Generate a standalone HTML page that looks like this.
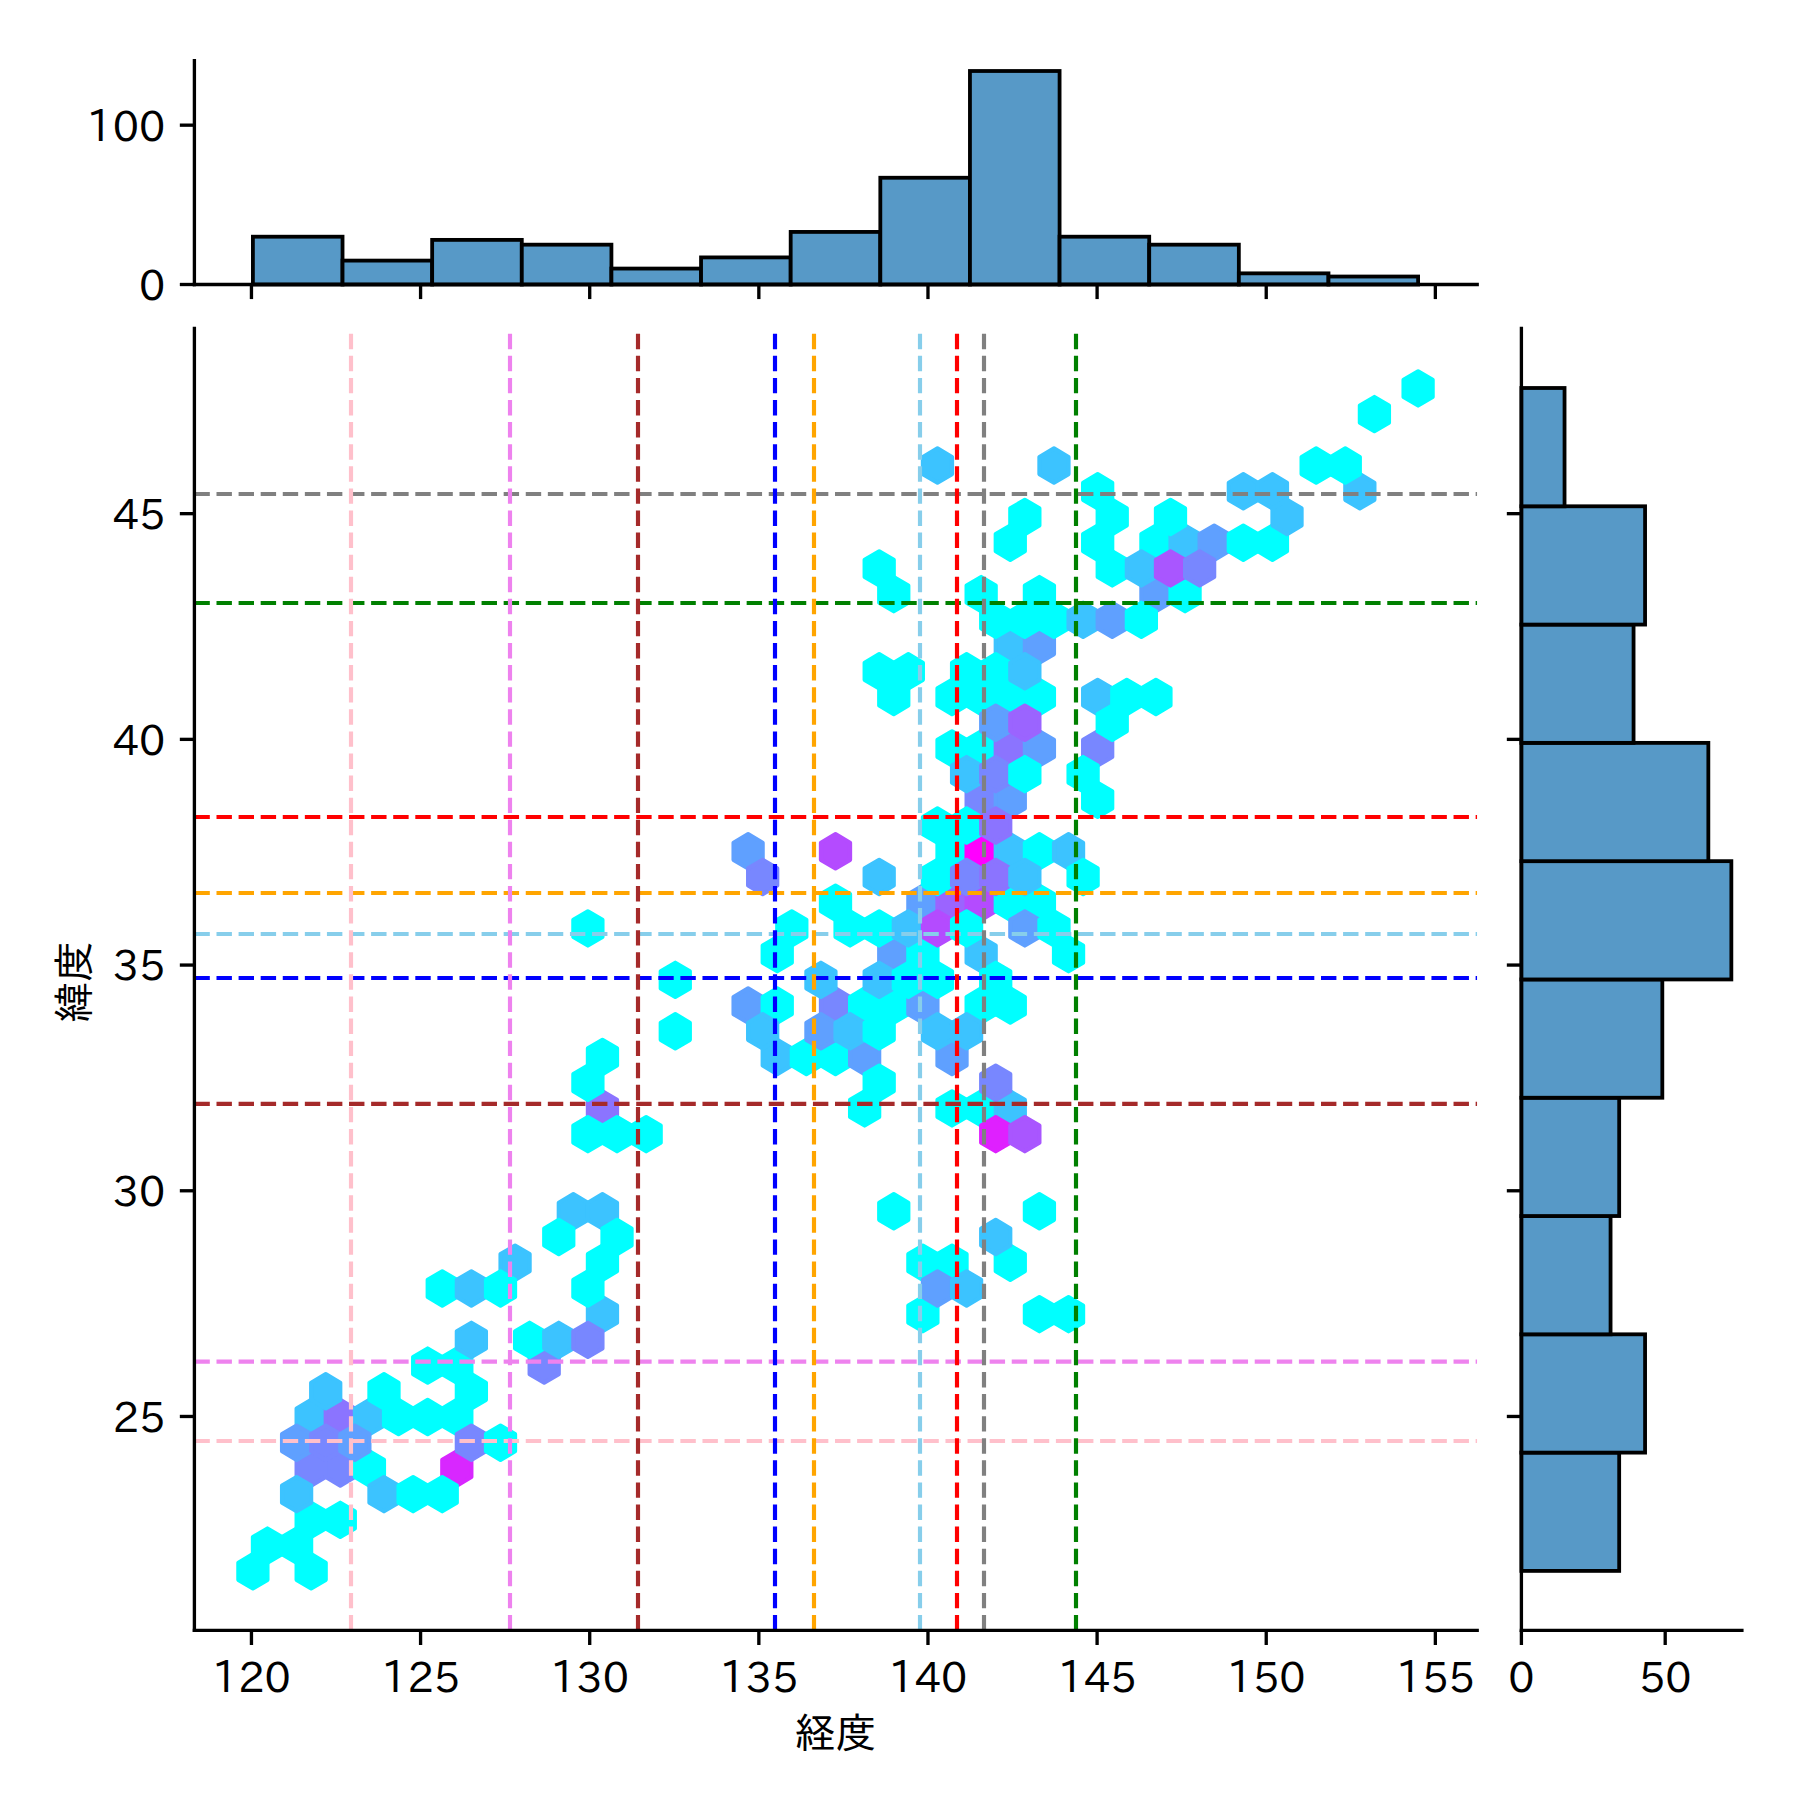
<!DOCTYPE html>
<html><head><meta charset="utf-8"><title>jointplot</title>
<style>html,body{margin:0;padding:0;background:#fff;} svg{display:block;}</style>
</head><body>
<svg width="1800" height="1800" viewBox="0 0 1800 1800">
<rect width="1800" height="1800" fill="#ffffff"/>
<defs><clipPath id="cj"><rect x="194.4" y="328.3" width="1282.8" height="1302.1000000000001"/></clipPath></defs>
<g clip-path="url(#cj)">
<g stroke-width="4.167" stroke-linejoin="round">
<polygon points="267.47,1579.87 267.47,1562.73 252.90,1554.16 238.34,1562.73 238.34,1579.87 252.90,1588.44" fill="#00ffff" stroke="#00ffff"/>
<polygon points="325.73,1579.87 325.73,1562.73 311.16,1554.16 296.60,1562.73 296.60,1579.87 311.16,1588.44" fill="#00ffff" stroke="#00ffff"/>
<polygon points="325.73,1528.44 325.73,1511.30 311.16,1502.73 296.60,1511.30 296.60,1528.44 311.16,1537.01" fill="#00ffff" stroke="#00ffff"/>
<polygon points="325.73,1477.01 325.73,1459.87 311.16,1451.30 296.60,1459.87 296.60,1477.01 311.16,1485.58" fill="#7887ff" stroke="#7887ff"/>
<polygon points="325.73,1425.58 325.73,1408.44 311.16,1399.87 296.60,1408.44 296.60,1425.58 311.16,1434.15" fill="#3cc3ff" stroke="#3cc3ff"/>
<polygon points="354.86,1528.44 354.86,1511.30 340.29,1502.73 325.73,1511.30 325.73,1528.44 340.29,1537.01" fill="#00ffff" stroke="#00ffff"/>
<polygon points="354.86,1477.01 354.86,1459.87 340.29,1451.30 325.73,1459.87 325.73,1477.01 340.29,1485.58" fill="#7887ff" stroke="#7887ff"/>
<polygon points="354.86,1425.58 354.86,1408.44 340.29,1399.87 325.73,1408.44 325.73,1425.58 340.29,1434.15" fill="#8b74ff" stroke="#8b74ff"/>
<polygon points="383.99,1477.01 383.99,1459.87 369.42,1451.30 354.86,1459.87 354.86,1477.01 369.42,1485.58" fill="#00ffff" stroke="#00ffff"/>
<polygon points="383.99,1425.58 383.99,1408.44 369.42,1399.87 354.86,1408.44 354.86,1425.58 369.42,1434.15" fill="#3cc3ff" stroke="#3cc3ff"/>
<polygon points="413.12,1425.58 413.12,1408.44 398.55,1399.87 383.99,1408.44 383.99,1425.58 398.55,1434.15" fill="#00ffff" stroke="#00ffff"/>
<polygon points="442.25,1425.58 442.25,1408.44 427.68,1399.87 413.12,1408.44 413.12,1425.58 427.68,1434.15" fill="#00ffff" stroke="#00ffff"/>
<polygon points="442.25,1374.15 442.25,1357.01 427.68,1348.43 413.12,1357.01 413.12,1374.15 427.68,1382.72" fill="#00ffff" stroke="#00ffff"/>
<polygon points="471.38,1477.01 471.38,1459.87 456.81,1451.30 442.25,1459.87 442.25,1477.01 456.81,1485.58" fill="#d827ff" stroke="#d827ff"/>
<polygon points="471.38,1425.58 471.38,1408.44 456.81,1399.87 442.25,1408.44 442.25,1425.58 456.81,1434.15" fill="#00ffff" stroke="#00ffff"/>
<polygon points="471.38,1374.15 471.38,1357.01 456.81,1348.43 442.25,1357.01 442.25,1374.15 456.81,1382.72" fill="#00ffff" stroke="#00ffff"/>
<polygon points="529.64,1271.29 529.64,1254.15 515.07,1245.57 500.51,1254.15 500.51,1271.29 515.07,1279.86" fill="#3cc3ff" stroke="#3cc3ff"/>
<polygon points="558.77,1374.15 558.77,1357.01 544.20,1348.43 529.63,1357.01 529.63,1374.15 544.20,1382.72" fill="#7887ff" stroke="#7887ff"/>
<polygon points="587.90,1219.86 587.90,1202.72 573.33,1194.14 558.76,1202.72 558.76,1219.86 573.33,1228.43" fill="#3cc3ff" stroke="#3cc3ff"/>
<polygon points="617.03,1322.72 617.03,1305.58 602.46,1297.00 587.89,1305.58 587.89,1322.72 602.46,1331.29" fill="#3cc3ff" stroke="#3cc3ff"/>
<polygon points="617.03,1271.29 617.03,1254.15 602.46,1245.57 587.89,1254.15 587.89,1271.29 602.46,1279.86" fill="#00ffff" stroke="#00ffff"/>
<polygon points="617.03,1219.86 617.03,1202.72 602.46,1194.14 587.89,1202.72 587.89,1219.86 602.46,1228.43" fill="#3cc3ff" stroke="#3cc3ff"/>
<polygon points="617.03,1117.00 617.03,1099.85 602.46,1091.28 587.89,1099.85 587.89,1117.00 602.46,1125.57" fill="#8b74ff" stroke="#8b74ff"/>
<polygon points="617.03,1065.57 617.03,1048.42 602.46,1039.85 587.89,1048.42 587.89,1065.57 602.46,1074.14" fill="#00ffff" stroke="#00ffff"/>
<polygon points="762.68,1014.14 762.68,996.99 748.11,988.42 733.54,996.99 733.54,1014.14 748.11,1022.71" fill="#5fa0ff" stroke="#5fa0ff"/>
<polygon points="762.68,859.85 762.68,842.70 748.11,834.13 733.54,842.70 733.54,859.85 748.11,868.42" fill="#5fa0ff" stroke="#5fa0ff"/>
<polygon points="791.81,1065.57 791.81,1048.42 777.24,1039.85 762.67,1048.42 762.67,1065.57 777.24,1074.14" fill="#3cc3ff" stroke="#3cc3ff"/>
<polygon points="791.81,1014.14 791.81,996.99 777.24,988.42 762.67,996.99 762.67,1014.14 777.24,1022.71" fill="#00ffff" stroke="#00ffff"/>
<polygon points="791.81,962.71 791.81,945.56 777.24,936.99 762.67,945.56 762.67,962.71 777.24,971.28" fill="#00ffff" stroke="#00ffff"/>
<polygon points="820.94,1065.57 820.94,1048.42 806.37,1039.85 791.80,1048.42 791.80,1065.57 806.37,1074.14" fill="#00ffff" stroke="#00ffff"/>
<polygon points="850.07,1065.57 850.07,1048.42 835.50,1039.85 820.93,1048.42 820.93,1065.57 835.50,1074.14" fill="#00ffff" stroke="#00ffff"/>
<polygon points="850.07,1014.14 850.07,996.99 835.50,988.42 820.93,996.99 820.93,1014.14 835.50,1022.71" fill="#7887ff" stroke="#7887ff"/>
<polygon points="850.07,911.28 850.07,894.13 835.50,885.56 820.93,894.13 820.93,911.28 835.50,919.85" fill="#00ffff" stroke="#00ffff"/>
<polygon points="850.07,859.85 850.07,842.70 835.50,834.13 820.93,842.70 820.93,859.85 835.50,868.42" fill="#b44bff" stroke="#b44bff"/>
<polygon points="879.20,1117.00 879.20,1099.85 864.63,1091.28 850.06,1099.85 850.06,1117.00 864.63,1125.57" fill="#00ffff" stroke="#00ffff"/>
<polygon points="879.20,1065.57 879.20,1048.42 864.63,1039.85 850.06,1048.42 850.06,1065.57 864.63,1074.14" fill="#5fa0ff" stroke="#5fa0ff"/>
<polygon points="879.20,1014.14 879.20,996.99 864.63,988.42 850.06,996.99 850.06,1014.14 864.63,1022.71" fill="#00ffff" stroke="#00ffff"/>
<polygon points="908.33,1219.86 908.33,1202.72 893.76,1194.14 879.19,1202.72 879.19,1219.86 893.76,1228.43" fill="#00ffff" stroke="#00ffff"/>
<polygon points="908.33,1014.14 908.33,996.99 893.76,988.42 879.19,996.99 879.19,1014.14 893.76,1022.71" fill="#00ffff" stroke="#00ffff"/>
<polygon points="908.33,962.71 908.33,945.56 893.76,936.99 879.19,945.56 879.19,962.71 893.76,971.28" fill="#5fa0ff" stroke="#5fa0ff"/>
<polygon points="908.33,705.55 908.33,688.41 893.76,679.84 879.19,688.41 879.19,705.55 893.76,714.13" fill="#00ffff" stroke="#00ffff"/>
<polygon points="908.33,602.69 908.33,585.55 893.76,576.98 879.19,585.55 879.19,602.69 893.76,611.27" fill="#00ffff" stroke="#00ffff"/>
<polygon points="937.46,1322.72 937.46,1305.58 922.89,1297.00 908.32,1305.58 908.32,1322.72 922.89,1331.29" fill="#00ffff" stroke="#00ffff"/>
<polygon points="937.46,1271.29 937.46,1254.15 922.89,1245.57 908.32,1254.15 908.32,1271.29 922.89,1279.86" fill="#00ffff" stroke="#00ffff"/>
<polygon points="937.46,1014.14 937.46,996.99 922.89,988.42 908.32,996.99 908.32,1014.14 922.89,1022.71" fill="#5fa0ff" stroke="#5fa0ff"/>
<polygon points="937.46,962.71 937.46,945.56 922.89,936.99 908.32,945.56 908.32,962.71 922.89,971.28" fill="#00ffff" stroke="#00ffff"/>
<polygon points="937.46,911.28 937.46,894.13 922.89,885.56 908.32,894.13 908.32,911.28 922.89,919.85" fill="#5fa0ff" stroke="#5fa0ff"/>
<polygon points="966.59,1271.29 966.59,1254.15 952.02,1245.57 937.46,1254.15 937.46,1271.29 952.02,1279.86" fill="#00ffff" stroke="#00ffff"/>
<polygon points="966.59,1117.00 966.59,1099.85 952.02,1091.28 937.46,1099.85 937.46,1117.00 952.02,1125.57" fill="#00ffff" stroke="#00ffff"/>
<polygon points="966.59,1065.57 966.59,1048.42 952.02,1039.85 937.46,1048.42 937.46,1065.57 952.02,1074.14" fill="#5fa0ff" stroke="#5fa0ff"/>
<polygon points="966.59,911.28 966.59,894.13 952.02,885.56 937.46,894.13 937.46,911.28 952.02,919.85" fill="#9b64ff" stroke="#9b64ff"/>
<polygon points="966.59,859.85 966.59,842.70 952.02,834.13 937.46,842.70 937.46,859.85 952.02,868.42" fill="#00ffff" stroke="#00ffff"/>
<polygon points="966.59,756.98 966.59,739.84 952.02,731.27 937.46,739.84 937.46,756.98 952.02,765.56" fill="#00ffff" stroke="#00ffff"/>
<polygon points="966.59,705.55 966.59,688.41 952.02,679.84 937.46,688.41 937.46,705.55 952.02,714.13" fill="#00ffff" stroke="#00ffff"/>
<polygon points="995.72,1117.00 995.72,1099.85 981.15,1091.28 966.59,1099.85 966.59,1117.00 981.15,1125.57" fill="#00ffff" stroke="#00ffff"/>
<polygon points="995.72,1014.14 995.72,996.99 981.15,988.42 966.59,996.99 966.59,1014.14 981.15,1022.71" fill="#00ffff" stroke="#00ffff"/>
<polygon points="995.72,962.71 995.72,945.56 981.15,936.99 966.59,945.56 966.59,962.71 981.15,971.28" fill="#3cc3ff" stroke="#3cc3ff"/>
<polygon points="995.72,911.28 995.72,894.13 981.15,885.56 966.59,894.13 966.59,911.28 981.15,919.85" fill="#b44bff" stroke="#b44bff"/>
<polygon points="995.72,859.85 995.72,842.70 981.15,834.13 966.59,842.70 966.59,859.85 981.15,868.42" fill="#ff00ff" stroke="#ff00ff"/>
<polygon points="995.72,808.42 995.72,791.27 981.15,782.70 966.59,791.27 966.59,808.42 981.15,816.99" fill="#7887ff" stroke="#7887ff"/>
<polygon points="995.72,756.98 995.72,739.84 981.15,731.27 966.59,739.84 966.59,756.98 981.15,765.56" fill="#00ffff" stroke="#00ffff"/>
<polygon points="995.72,705.55 995.72,688.41 981.15,679.84 966.59,688.41 966.59,705.55 981.15,714.13" fill="#00ffff" stroke="#00ffff"/>
<polygon points="995.72,602.69 995.72,585.55 981.15,576.98 966.59,585.55 966.59,602.69 981.15,611.27" fill="#00ffff" stroke="#00ffff"/>
<polygon points="1024.85,1271.29 1024.85,1254.15 1010.28,1245.57 995.72,1254.15 995.72,1271.29 1010.28,1279.86" fill="#00ffff" stroke="#00ffff"/>
<polygon points="1024.85,1117.00 1024.85,1099.85 1010.28,1091.28 995.72,1099.85 995.72,1117.00 1010.28,1125.57" fill="#3cc3ff" stroke="#3cc3ff"/>
<polygon points="1024.85,1014.14 1024.85,996.99 1010.28,988.42 995.72,996.99 995.72,1014.14 1010.28,1022.71" fill="#00ffff" stroke="#00ffff"/>
<polygon points="1024.85,911.28 1024.85,894.13 1010.28,885.56 995.72,894.13 995.72,911.28 1010.28,919.85" fill="#00ffff" stroke="#00ffff"/>
<polygon points="1024.85,859.85 1024.85,842.70 1010.28,834.13 995.72,842.70 995.72,859.85 1010.28,868.42" fill="#3cc3ff" stroke="#3cc3ff"/>
<polygon points="1024.85,808.42 1024.85,791.27 1010.28,782.70 995.72,791.27 995.72,808.42 1010.28,816.99" fill="#5fa0ff" stroke="#5fa0ff"/>
<polygon points="1024.85,756.98 1024.85,739.84 1010.28,731.27 995.72,739.84 995.72,756.98 1010.28,765.56" fill="#8b74ff" stroke="#8b74ff"/>
<polygon points="1024.85,705.55 1024.85,688.41 1010.28,679.84 995.72,688.41 995.72,705.55 1010.28,714.13" fill="#00ffff" stroke="#00ffff"/>
<polygon points="1024.85,654.12 1024.85,636.98 1010.28,628.41 995.72,636.98 995.72,654.12 1010.28,662.70" fill="#3cc3ff" stroke="#3cc3ff"/>
<polygon points="1024.85,551.26 1024.85,534.12 1010.28,525.55 995.72,534.12 995.72,551.26 1010.28,559.83" fill="#00ffff" stroke="#00ffff"/>
<polygon points="1053.98,1322.72 1053.98,1305.58 1039.41,1297.00 1024.85,1305.58 1024.85,1322.72 1039.41,1331.29" fill="#00ffff" stroke="#00ffff"/>
<polygon points="1053.98,1219.86 1053.98,1202.72 1039.41,1194.14 1024.85,1202.72 1024.85,1219.86 1039.41,1228.43" fill="#00ffff" stroke="#00ffff"/>
<polygon points="1053.98,911.28 1053.98,894.13 1039.41,885.56 1024.85,894.13 1024.85,911.28 1039.41,919.85" fill="#00ffff" stroke="#00ffff"/>
<polygon points="1053.98,859.85 1053.98,842.70 1039.41,834.13 1024.85,842.70 1024.85,859.85 1039.41,868.42" fill="#00ffff" stroke="#00ffff"/>
<polygon points="1053.98,756.98 1053.98,739.84 1039.41,731.27 1024.85,739.84 1024.85,756.98 1039.41,765.56" fill="#5fa0ff" stroke="#5fa0ff"/>
<polygon points="1053.98,705.55 1053.98,688.41 1039.41,679.84 1024.85,688.41 1024.85,705.55 1039.41,714.13" fill="#00ffff" stroke="#00ffff"/>
<polygon points="1053.98,654.12 1053.98,636.98 1039.41,628.41 1024.85,636.98 1024.85,654.12 1039.41,662.70" fill="#5fa0ff" stroke="#5fa0ff"/>
<polygon points="1053.98,602.69 1053.98,585.55 1039.41,576.98 1024.85,585.55 1024.85,602.69 1039.41,611.27" fill="#00ffff" stroke="#00ffff"/>
<polygon points="1083.11,1322.72 1083.11,1305.58 1068.54,1297.00 1053.98,1305.58 1053.98,1322.72 1068.54,1331.29" fill="#00ffff" stroke="#00ffff"/>
<polygon points="1083.11,962.71 1083.11,945.56 1068.54,936.99 1053.98,945.56 1053.98,962.71 1068.54,971.28" fill="#00ffff" stroke="#00ffff"/>
<polygon points="1083.11,859.85 1083.11,842.70 1068.54,834.13 1053.98,842.70 1053.98,859.85 1068.54,868.42" fill="#3cc3ff" stroke="#3cc3ff"/>
<polygon points="1112.24,808.42 1112.24,791.27 1097.67,782.70 1083.11,791.27 1083.11,808.42 1097.67,816.99" fill="#00ffff" stroke="#00ffff"/>
<polygon points="1112.24,756.98 1112.24,739.84 1097.67,731.27 1083.11,739.84 1083.11,756.98 1097.67,765.56" fill="#7887ff" stroke="#7887ff"/>
<polygon points="1112.24,705.55 1112.24,688.41 1097.67,679.84 1083.11,688.41 1083.11,705.55 1097.67,714.13" fill="#3cc3ff" stroke="#3cc3ff"/>
<polygon points="1112.24,551.26 1112.24,534.12 1097.67,525.55 1083.11,534.12 1083.11,551.26 1097.67,559.83" fill="#00ffff" stroke="#00ffff"/>
<polygon points="1112.24,499.83 1112.24,482.69 1097.67,474.12 1083.11,482.69 1083.11,499.83 1097.67,508.40" fill="#00ffff" stroke="#00ffff"/>
<polygon points="1141.37,705.55 1141.37,688.41 1126.80,679.84 1112.24,688.41 1112.24,705.55 1126.80,714.13" fill="#00ffff" stroke="#00ffff"/>
<polygon points="1170.50,705.55 1170.50,688.41 1155.93,679.84 1141.37,688.41 1141.37,705.55 1155.93,714.13" fill="#00ffff" stroke="#00ffff"/>
<polygon points="1170.50,602.69 1170.50,585.55 1155.93,576.98 1141.37,585.55 1141.37,602.69 1155.93,611.27" fill="#5fa0ff" stroke="#5fa0ff"/>
<polygon points="1170.50,551.26 1170.50,534.12 1155.93,525.55 1141.37,534.12 1141.37,551.26 1155.93,559.83" fill="#00ffff" stroke="#00ffff"/>
<polygon points="1199.63,602.69 1199.63,585.55 1185.06,576.98 1170.50,585.55 1170.50,602.69 1185.06,611.27" fill="#00ffff" stroke="#00ffff"/>
<polygon points="1199.63,551.26 1199.63,534.12 1185.06,525.55 1170.50,534.12 1170.50,551.26 1185.06,559.83" fill="#3cc3ff" stroke="#3cc3ff"/>
<polygon points="1228.76,551.26 1228.76,534.12 1214.19,525.55 1199.62,534.12 1199.62,551.26 1214.19,559.83" fill="#5fa0ff" stroke="#5fa0ff"/>
<polygon points="1257.89,551.26 1257.89,534.12 1243.32,525.55 1228.76,534.12 1228.76,551.26 1243.32,559.83" fill="#00ffff" stroke="#00ffff"/>
<polygon points="1257.89,499.83 1257.89,482.69 1243.32,474.12 1228.76,482.69 1228.76,499.83 1243.32,508.40" fill="#3cc3ff" stroke="#3cc3ff"/>
<polygon points="1287.02,551.26 1287.02,534.12 1272.45,525.55 1257.88,534.12 1257.88,551.26 1272.45,559.83" fill="#00ffff" stroke="#00ffff"/>
<polygon points="1287.02,499.83 1287.02,482.69 1272.45,474.12 1257.88,482.69 1257.88,499.83 1272.45,508.40" fill="#3cc3ff" stroke="#3cc3ff"/>
<polygon points="1374.41,499.83 1374.41,482.69 1359.84,474.12 1345.28,482.69 1345.28,499.83 1359.84,508.40" fill="#3cc3ff" stroke="#3cc3ff"/>
<polygon points="1432.67,396.97 1432.67,379.83 1418.10,371.26 1403.54,379.83 1403.54,396.97 1418.10,405.54" fill="#00ffff" stroke="#00ffff"/>
<polygon points="282.03,1554.16 282.03,1537.01 267.47,1528.44 252.90,1537.01 252.90,1554.16 267.47,1562.73" fill="#00ffff" stroke="#00ffff"/>
<polygon points="311.16,1554.16 311.16,1537.01 296.60,1528.44 282.03,1537.01 282.03,1554.16 296.60,1562.73" fill="#00ffff" stroke="#00ffff"/>
<polygon points="311.16,1502.73 311.16,1485.58 296.60,1477.01 282.03,1485.58 282.03,1502.73 296.60,1511.30" fill="#3cc3ff" stroke="#3cc3ff"/>
<polygon points="311.16,1451.30 311.16,1434.15 296.60,1425.58 282.03,1434.15 282.03,1451.30 296.60,1459.87" fill="#5fa0ff" stroke="#5fa0ff"/>
<polygon points="340.29,1451.30 340.29,1434.15 325.73,1425.58 311.16,1434.15 311.16,1451.30 325.73,1459.87" fill="#7887ff" stroke="#7887ff"/>
<polygon points="340.29,1399.87 340.29,1382.72 325.73,1374.15 311.16,1382.72 311.16,1399.87 325.73,1408.44" fill="#3cc3ff" stroke="#3cc3ff"/>
<polygon points="369.42,1451.30 369.42,1434.15 354.86,1425.58 340.29,1434.15 340.29,1451.30 354.86,1459.87" fill="#5fa0ff" stroke="#5fa0ff"/>
<polygon points="398.55,1502.73 398.55,1485.58 383.99,1477.01 369.42,1485.58 369.42,1502.73 383.99,1511.30" fill="#3cc3ff" stroke="#3cc3ff"/>
<polygon points="398.55,1399.87 398.55,1382.72 383.99,1374.15 369.42,1382.72 369.42,1399.87 383.99,1408.44" fill="#00ffff" stroke="#00ffff"/>
<polygon points="427.68,1502.73 427.68,1485.58 413.12,1477.01 398.55,1485.58 398.55,1502.73 413.12,1511.30" fill="#00ffff" stroke="#00ffff"/>
<polygon points="456.81,1502.73 456.81,1485.58 442.25,1477.01 427.68,1485.58 427.68,1502.73 442.25,1511.30" fill="#00ffff" stroke="#00ffff"/>
<polygon points="456.81,1297.00 456.81,1279.86 442.25,1271.29 427.68,1279.86 427.68,1297.00 442.25,1305.58" fill="#00ffff" stroke="#00ffff"/>
<polygon points="485.94,1451.30 485.94,1434.15 471.38,1425.58 456.81,1434.15 456.81,1451.30 471.38,1459.87" fill="#7887ff" stroke="#7887ff"/>
<polygon points="485.94,1399.87 485.94,1382.72 471.38,1374.15 456.81,1382.72 456.81,1399.87 471.38,1408.44" fill="#00ffff" stroke="#00ffff"/>
<polygon points="485.94,1348.43 485.94,1331.29 471.38,1322.72 456.81,1331.29 456.81,1348.43 471.38,1357.01" fill="#3cc3ff" stroke="#3cc3ff"/>
<polygon points="485.94,1297.00 485.94,1279.86 471.38,1271.29 456.81,1279.86 456.81,1297.00 471.38,1305.58" fill="#3cc3ff" stroke="#3cc3ff"/>
<polygon points="515.07,1451.30 515.07,1434.15 500.50,1425.58 485.94,1434.15 485.94,1451.30 500.50,1459.87" fill="#00ffff" stroke="#00ffff"/>
<polygon points="515.07,1297.00 515.07,1279.86 500.50,1271.29 485.94,1279.86 485.94,1297.00 500.50,1305.58" fill="#00ffff" stroke="#00ffff"/>
<polygon points="544.20,1348.43 544.20,1331.29 529.63,1322.72 515.07,1331.29 515.07,1348.43 529.63,1357.01" fill="#00ffff" stroke="#00ffff"/>
<polygon points="573.33,1348.43 573.33,1331.29 558.76,1322.72 544.20,1331.29 544.20,1348.43 558.76,1357.01" fill="#3cc3ff" stroke="#3cc3ff"/>
<polygon points="573.33,1245.57 573.33,1228.43 558.76,1219.86 544.20,1228.43 544.20,1245.57 558.76,1254.15" fill="#00ffff" stroke="#00ffff"/>
<polygon points="602.46,1348.43 602.46,1331.29 587.89,1322.72 573.33,1331.29 573.33,1348.43 587.89,1357.01" fill="#7887ff" stroke="#7887ff"/>
<polygon points="602.46,1297.00 602.46,1279.86 587.89,1271.29 573.33,1279.86 573.33,1297.00 587.89,1305.58" fill="#00ffff" stroke="#00ffff"/>
<polygon points="602.46,1142.71 602.46,1125.57 587.89,1117.00 573.33,1125.57 573.33,1142.71 587.89,1151.28" fill="#00ffff" stroke="#00ffff"/>
<polygon points="602.46,1091.28 602.46,1074.14 587.89,1065.57 573.33,1074.14 573.33,1091.28 587.89,1099.85" fill="#00ffff" stroke="#00ffff"/>
<polygon points="602.46,936.99 602.46,919.85 587.89,911.28 573.33,919.85 573.33,936.99 587.89,945.56" fill="#00ffff" stroke="#00ffff"/>
<polygon points="631.59,1245.57 631.59,1228.43 617.03,1219.86 602.46,1228.43 602.46,1245.57 617.03,1254.15" fill="#00ffff" stroke="#00ffff"/>
<polygon points="631.59,1142.71 631.59,1125.57 617.03,1117.00 602.46,1125.57 602.46,1142.71 617.03,1151.28" fill="#00ffff" stroke="#00ffff"/>
<polygon points="660.72,1142.71 660.72,1125.57 646.16,1117.00 631.59,1125.57 631.59,1142.71 646.16,1151.28" fill="#00ffff" stroke="#00ffff"/>
<polygon points="689.85,1039.85 689.85,1022.71 675.29,1014.14 660.72,1022.71 660.72,1039.85 675.29,1048.42" fill="#00ffff" stroke="#00ffff"/>
<polygon points="689.85,988.42 689.85,971.28 675.29,962.71 660.72,971.28 660.72,988.42 675.29,996.99" fill="#00ffff" stroke="#00ffff"/>
<polygon points="777.24,1039.85 777.24,1022.71 762.68,1014.14 748.11,1022.71 748.11,1039.85 762.68,1048.42" fill="#3cc3ff" stroke="#3cc3ff"/>
<polygon points="777.24,885.56 777.24,868.42 762.68,859.85 748.11,868.42 748.11,885.56 762.68,894.13" fill="#7887ff" stroke="#7887ff"/>
<polygon points="806.37,936.99 806.37,919.85 791.81,911.28 777.24,919.85 777.24,936.99 791.81,945.56" fill="#00ffff" stroke="#00ffff"/>
<polygon points="835.50,1039.85 835.50,1022.71 820.94,1014.14 806.37,1022.71 806.37,1039.85 820.94,1048.42" fill="#5fa0ff" stroke="#5fa0ff"/>
<polygon points="835.50,988.42 835.50,971.28 820.94,962.71 806.37,971.28 806.37,988.42 820.94,996.99" fill="#3cc3ff" stroke="#3cc3ff"/>
<polygon points="864.63,1039.85 864.63,1022.71 850.07,1014.14 835.50,1022.71 835.50,1039.85 850.07,1048.42" fill="#3cc3ff" stroke="#3cc3ff"/>
<polygon points="864.63,936.99 864.63,919.85 850.07,911.28 835.50,919.85 835.50,936.99 850.07,945.56" fill="#00ffff" stroke="#00ffff"/>
<polygon points="893.76,1091.28 893.76,1074.14 879.20,1065.57 864.63,1074.14 864.63,1091.28 879.20,1099.85" fill="#00ffff" stroke="#00ffff"/>
<polygon points="893.76,1039.85 893.76,1022.71 879.20,1014.14 864.63,1022.71 864.63,1039.85 879.20,1048.42" fill="#00ffff" stroke="#00ffff"/>
<polygon points="893.76,988.42 893.76,971.28 879.20,962.71 864.63,971.28 864.63,988.42 879.20,996.99" fill="#3cc3ff" stroke="#3cc3ff"/>
<polygon points="893.76,936.99 893.76,919.85 879.20,911.28 864.63,919.85 864.63,936.99 879.20,945.56" fill="#00ffff" stroke="#00ffff"/>
<polygon points="893.76,885.56 893.76,868.42 879.20,859.85 864.63,868.42 864.63,885.56 879.20,894.13" fill="#3cc3ff" stroke="#3cc3ff"/>
<polygon points="893.76,679.84 893.76,662.70 879.20,654.12 864.63,662.70 864.63,679.84 879.20,688.41" fill="#00ffff" stroke="#00ffff"/>
<polygon points="893.76,576.98 893.76,559.83 879.20,551.26 864.63,559.83 864.63,576.98 879.20,585.55" fill="#00ffff" stroke="#00ffff"/>
<polygon points="922.89,988.42 922.89,971.28 908.33,962.71 893.76,971.28 893.76,988.42 908.33,996.99" fill="#00ffff" stroke="#00ffff"/>
<polygon points="922.89,936.99 922.89,919.85 908.33,911.28 893.76,919.85 893.76,936.99 908.33,945.56" fill="#3cc3ff" stroke="#3cc3ff"/>
<polygon points="922.89,679.84 922.89,662.70 908.33,654.12 893.76,662.70 893.76,679.84 908.33,688.41" fill="#00ffff" stroke="#00ffff"/>
<polygon points="952.02,1297.00 952.02,1279.86 937.46,1271.29 922.89,1279.86 922.89,1297.00 937.46,1305.58" fill="#5fa0ff" stroke="#5fa0ff"/>
<polygon points="952.02,1039.85 952.02,1022.71 937.46,1014.14 922.89,1022.71 922.89,1039.85 937.46,1048.42" fill="#3cc3ff" stroke="#3cc3ff"/>
<polygon points="952.02,988.42 952.02,971.28 937.46,962.71 922.89,971.28 922.89,988.42 937.46,996.99" fill="#00ffff" stroke="#00ffff"/>
<polygon points="952.02,936.99 952.02,919.85 937.46,911.28 922.89,919.85 922.89,936.99 937.46,945.56" fill="#b44bff" stroke="#b44bff"/>
<polygon points="952.02,885.56 952.02,868.42 937.46,859.85 922.89,868.42 922.89,885.56 937.46,894.13" fill="#00ffff" stroke="#00ffff"/>
<polygon points="952.02,834.13 952.02,816.99 937.46,808.42 922.89,816.99 922.89,834.13 937.46,842.70" fill="#00ffff" stroke="#00ffff"/>
<polygon points="952.02,474.12 952.02,456.97 937.46,448.40 922.89,456.97 922.89,474.12 937.46,482.69" fill="#3cc3ff" stroke="#3cc3ff"/>
<polygon points="981.15,1297.00 981.15,1279.86 966.59,1271.29 952.02,1279.86 952.02,1297.00 966.59,1305.58" fill="#3cc3ff" stroke="#3cc3ff"/>
<polygon points="981.15,1039.85 981.15,1022.71 966.59,1014.14 952.02,1022.71 952.02,1039.85 966.59,1048.42" fill="#3cc3ff" stroke="#3cc3ff"/>
<polygon points="981.15,936.99 981.15,919.85 966.59,911.28 952.02,919.85 952.02,936.99 966.59,945.56" fill="#00ffff" stroke="#00ffff"/>
<polygon points="981.15,885.56 981.15,868.42 966.59,859.85 952.02,868.42 952.02,885.56 966.59,894.13" fill="#7887ff" stroke="#7887ff"/>
<polygon points="981.15,834.13 981.15,816.99 966.59,808.42 952.02,816.99 952.02,834.13 966.59,842.70" fill="#00ffff" stroke="#00ffff"/>
<polygon points="981.15,782.70 981.15,765.56 966.59,756.98 952.02,765.56 952.02,782.70 966.59,791.27" fill="#3cc3ff" stroke="#3cc3ff"/>
<polygon points="981.15,679.84 981.15,662.70 966.59,654.12 952.02,662.70 952.02,679.84 966.59,688.41" fill="#00ffff" stroke="#00ffff"/>
<polygon points="1010.28,1245.57 1010.28,1228.43 995.72,1219.86 981.15,1228.43 981.15,1245.57 995.72,1254.15" fill="#3cc3ff" stroke="#3cc3ff"/>
<polygon points="1010.28,1142.71 1010.28,1125.57 995.72,1117.00 981.15,1125.57 981.15,1142.71 995.72,1151.28" fill="#df20ff" stroke="#df20ff"/>
<polygon points="1010.28,1091.28 1010.28,1074.14 995.72,1065.57 981.15,1074.14 981.15,1091.28 995.72,1099.85" fill="#7887ff" stroke="#7887ff"/>
<polygon points="1010.28,988.42 1010.28,971.28 995.72,962.71 981.15,971.28 981.15,988.42 995.72,996.99" fill="#00ffff" stroke="#00ffff"/>
<polygon points="1010.28,885.56 1010.28,868.42 995.72,859.85 981.15,868.42 981.15,885.56 995.72,894.13" fill="#8b74ff" stroke="#8b74ff"/>
<polygon points="1010.28,834.13 1010.28,816.99 995.72,808.42 981.15,816.99 981.15,834.13 995.72,842.70" fill="#8b74ff" stroke="#8b74ff"/>
<polygon points="1010.28,782.70 1010.28,765.56 995.72,756.98 981.15,765.56 981.15,782.70 995.72,791.27" fill="#7887ff" stroke="#7887ff"/>
<polygon points="1010.28,731.27 1010.28,714.13 995.72,705.55 981.15,714.13 981.15,731.27 995.72,739.84" fill="#5fa0ff" stroke="#5fa0ff"/>
<polygon points="1010.28,679.84 1010.28,662.70 995.72,654.12 981.15,662.70 981.15,679.84 995.72,688.41" fill="#00ffff" stroke="#00ffff"/>
<polygon points="1010.28,628.41 1010.28,611.27 995.72,602.69 981.15,611.27 981.15,628.41 995.72,636.98" fill="#00ffff" stroke="#00ffff"/>
<polygon points="1039.41,1142.71 1039.41,1125.57 1024.85,1117.00 1010.28,1125.57 1010.28,1142.71 1024.85,1151.28" fill="#a956ff" stroke="#a956ff"/>
<polygon points="1039.41,936.99 1039.41,919.85 1024.85,911.28 1010.28,919.85 1010.28,936.99 1024.85,945.56" fill="#5fa0ff" stroke="#5fa0ff"/>
<polygon points="1039.41,885.56 1039.41,868.42 1024.85,859.85 1010.28,868.42 1010.28,885.56 1024.85,894.13" fill="#3cc3ff" stroke="#3cc3ff"/>
<polygon points="1039.41,782.70 1039.41,765.56 1024.85,756.98 1010.28,765.56 1010.28,782.70 1024.85,791.27" fill="#00ffff" stroke="#00ffff"/>
<polygon points="1039.41,731.27 1039.41,714.13 1024.85,705.55 1010.28,714.13 1010.28,731.27 1024.85,739.84" fill="#9b64ff" stroke="#9b64ff"/>
<polygon points="1039.41,679.84 1039.41,662.70 1024.85,654.12 1010.28,662.70 1010.28,679.84 1024.85,688.41" fill="#3cc3ff" stroke="#3cc3ff"/>
<polygon points="1039.41,628.41 1039.41,611.27 1024.85,602.69 1010.28,611.27 1010.28,628.41 1024.85,636.98" fill="#00ffff" stroke="#00ffff"/>
<polygon points="1039.41,525.55 1039.41,508.40 1024.85,499.83 1010.28,508.40 1010.28,525.55 1024.85,534.12" fill="#00ffff" stroke="#00ffff"/>
<polygon points="1068.54,936.99 1068.54,919.85 1053.98,911.28 1039.41,919.85 1039.41,936.99 1053.98,945.56" fill="#00ffff" stroke="#00ffff"/>
<polygon points="1068.54,628.41 1068.54,611.27 1053.98,602.69 1039.41,611.27 1039.41,628.41 1053.98,636.98" fill="#00ffff" stroke="#00ffff"/>
<polygon points="1068.54,474.12 1068.54,456.97 1053.98,448.40 1039.41,456.97 1039.41,474.12 1053.98,482.69" fill="#3cc3ff" stroke="#3cc3ff"/>
<polygon points="1097.67,885.56 1097.67,868.42 1083.11,859.85 1068.54,868.42 1068.54,885.56 1083.11,894.13" fill="#00ffff" stroke="#00ffff"/>
<polygon points="1097.67,782.70 1097.67,765.56 1083.11,756.98 1068.54,765.56 1068.54,782.70 1083.11,791.27" fill="#00ffff" stroke="#00ffff"/>
<polygon points="1097.67,628.41 1097.67,611.27 1083.11,602.69 1068.54,611.27 1068.54,628.41 1083.11,636.98" fill="#3cc3ff" stroke="#3cc3ff"/>
<polygon points="1126.80,731.27 1126.80,714.13 1112.24,705.55 1097.67,714.13 1097.67,731.27 1112.24,739.84" fill="#00ffff" stroke="#00ffff"/>
<polygon points="1126.80,628.41 1126.80,611.27 1112.24,602.69 1097.67,611.27 1097.67,628.41 1112.24,636.98" fill="#5fa0ff" stroke="#5fa0ff"/>
<polygon points="1126.80,576.98 1126.80,559.83 1112.24,551.26 1097.67,559.83 1097.67,576.98 1112.24,585.55" fill="#00ffff" stroke="#00ffff"/>
<polygon points="1126.80,525.55 1126.80,508.40 1112.24,499.83 1097.67,508.40 1097.67,525.55 1112.24,534.12" fill="#00ffff" stroke="#00ffff"/>
<polygon points="1155.93,628.41 1155.93,611.27 1141.37,602.69 1126.80,611.27 1126.80,628.41 1141.37,636.98" fill="#00ffff" stroke="#00ffff"/>
<polygon points="1155.93,576.98 1155.93,559.83 1141.37,551.26 1126.80,559.83 1126.80,576.98 1141.37,585.55" fill="#3cc3ff" stroke="#3cc3ff"/>
<polygon points="1185.06,576.98 1185.06,559.83 1170.50,551.26 1155.93,559.83 1155.93,576.98 1170.50,585.55" fill="#a956ff" stroke="#a956ff"/>
<polygon points="1185.06,525.55 1185.06,508.40 1170.50,499.83 1155.93,508.40 1155.93,525.55 1170.50,534.12" fill="#00ffff" stroke="#00ffff"/>
<polygon points="1214.19,576.98 1214.19,559.83 1199.63,551.26 1185.06,559.83 1185.06,576.98 1199.63,585.55" fill="#7887ff" stroke="#7887ff"/>
<polygon points="1301.58,525.55 1301.58,508.40 1287.02,499.83 1272.45,508.40 1272.45,525.55 1287.02,534.12" fill="#3cc3ff" stroke="#3cc3ff"/>
<polygon points="1330.71,474.12 1330.71,456.97 1316.15,448.40 1301.58,456.97 1301.58,474.12 1316.15,482.69" fill="#00ffff" stroke="#00ffff"/>
<polygon points="1359.84,474.12 1359.84,456.97 1345.28,448.40 1330.71,456.97 1330.71,474.12 1345.28,482.69" fill="#00ffff" stroke="#00ffff"/>
<polygon points="1388.97,422.69 1388.97,405.54 1374.41,396.97 1359.84,405.54 1359.84,422.69 1374.41,431.26" fill="#00ffff" stroke="#00ffff"/>
</g>
<line x1="194.4" y1="494.0" x2="1477.2" y2="494.0" stroke="#808080" stroke-width="4.167" stroke-dasharray="15.42 6.67"/>
<line x1="194.4" y1="603.0" x2="1477.2" y2="603.0" stroke="#008000" stroke-width="4.167" stroke-dasharray="15.42 6.67"/>
<line x1="194.4" y1="817.0" x2="1477.2" y2="817.0" stroke="#ff0000" stroke-width="4.167" stroke-dasharray="15.42 6.67"/>
<line x1="194.4" y1="893.0" x2="1477.2" y2="893.0" stroke="#ffa500" stroke-width="4.167" stroke-dasharray="15.42 6.67"/>
<line x1="194.4" y1="934.0" x2="1477.2" y2="934.0" stroke="#87ceeb" stroke-width="4.167" stroke-dasharray="15.42 6.67"/>
<line x1="194.4" y1="978.0" x2="1477.2" y2="978.0" stroke="#0000ff" stroke-width="4.167" stroke-dasharray="15.42 6.67"/>
<line x1="194.4" y1="1103.8" x2="1477.2" y2="1103.8" stroke="#a52a2a" stroke-width="4.167" stroke-dasharray="15.42 6.67"/>
<line x1="194.4" y1="1361.7" x2="1477.2" y2="1361.7" stroke="#ee82ee" stroke-width="4.167" stroke-dasharray="15.42 6.67"/>
<line x1="194.4" y1="1441.0" x2="1477.2" y2="1441.0" stroke="#ffc0cb" stroke-width="4.167" stroke-dasharray="15.42 6.67"/>
<line x1="351.0" y1="1630.4" x2="351.0" y2="328.3" stroke="#ffc0cb" stroke-width="4.167" stroke-dasharray="15.42 6.67"/>
<line x1="510.0" y1="1630.4" x2="510.0" y2="328.3" stroke="#ee82ee" stroke-width="4.167" stroke-dasharray="15.42 6.67"/>
<line x1="638.0" y1="1630.4" x2="638.0" y2="328.3" stroke="#a52a2a" stroke-width="4.167" stroke-dasharray="15.42 6.67"/>
<line x1="775.0" y1="1630.4" x2="775.0" y2="328.3" stroke="#0000ff" stroke-width="4.167" stroke-dasharray="15.42 6.67"/>
<line x1="814.0" y1="1630.4" x2="814.0" y2="328.3" stroke="#ffa500" stroke-width="4.167" stroke-dasharray="15.42 6.67"/>
<line x1="920.0" y1="1630.4" x2="920.0" y2="328.3" stroke="#87ceeb" stroke-width="4.167" stroke-dasharray="15.42 6.67"/>
<line x1="957.0" y1="1630.4" x2="957.0" y2="328.3" stroke="#ff0000" stroke-width="4.167" stroke-dasharray="15.42 6.67"/>
<line x1="984.0" y1="1630.4" x2="984.0" y2="328.3" stroke="#808080" stroke-width="4.167" stroke-dasharray="15.42 6.67"/>
<line x1="1076.0" y1="1630.4" x2="1076.0" y2="328.3" stroke="#008000" stroke-width="4.167" stroke-dasharray="15.42 6.67"/>
</g>
<g stroke="#000" stroke-width="3.8" stroke-linejoin="miter">
<rect x="252.90" y="236.70" width="89.63" height="47.80" fill="#5799c7"/>
<rect x="342.53" y="260.60" width="89.63" height="23.90" fill="#5799c7"/>
<rect x="432.16" y="239.89" width="89.63" height="44.61" fill="#5799c7"/>
<rect x="521.79" y="244.67" width="89.63" height="39.83" fill="#5799c7"/>
<rect x="611.42" y="268.57" width="89.63" height="15.93" fill="#5799c7"/>
<rect x="701.05" y="257.41" width="89.63" height="27.09" fill="#5799c7"/>
<rect x="790.68" y="231.92" width="89.63" height="52.58" fill="#5799c7"/>
<rect x="880.32" y="177.75" width="89.63" height="106.75" fill="#5799c7"/>
<rect x="969.95" y="71.00" width="89.63" height="213.50" fill="#5799c7"/>
<rect x="1059.58" y="236.70" width="89.63" height="47.80" fill="#5799c7"/>
<rect x="1149.21" y="244.67" width="89.63" height="39.83" fill="#5799c7"/>
<rect x="1238.84" y="273.35" width="89.63" height="11.15" fill="#5799c7"/>
<rect x="1328.47" y="276.53" width="89.63" height="7.97" fill="#5799c7"/>
<rect x="1521.40" y="1452.61" width="97.78" height="118.29" fill="#5799c7"/>
<rect x="1521.40" y="1334.32" width="123.67" height="118.29" fill="#5799c7"/>
<rect x="1521.40" y="1216.03" width="89.16" height="118.29" fill="#5799c7"/>
<rect x="1521.40" y="1097.74" width="97.78" height="118.29" fill="#5799c7"/>
<rect x="1521.40" y="979.45" width="140.92" height="118.29" fill="#5799c7"/>
<rect x="1521.40" y="861.16" width="209.95" height="118.29" fill="#5799c7"/>
<rect x="1521.40" y="742.87" width="186.94" height="118.29" fill="#5799c7"/>
<rect x="1521.40" y="624.58" width="112.16" height="118.29" fill="#5799c7"/>
<rect x="1521.40" y="506.29" width="123.67" height="118.29" fill="#5799c7"/>
<rect x="1521.40" y="388.00" width="43.14" height="118.29" fill="#5799c7"/>
</g>
<g stroke="#000" stroke-width="3.333" stroke-linecap="square" fill="none">
<line x1="194.4" y1="328.3" x2="194.4" y2="1630.4"/>
<line x1="194.4" y1="1630.4" x2="1477.2" y2="1630.4"/>
<line x1="194.4" y1="60.6" x2="194.4" y2="284.5"/>
<line x1="194.4" y1="284.5" x2="1477.2" y2="284.5"/>
<line x1="1521.4" y1="328.3" x2="1521.4" y2="1630.4"/>
<line x1="1521.4" y1="1630.4" x2="1741.9" y2="1630.4"/>
</g>
<g stroke="#000" stroke-width="3.333" fill="none">
<line x1="251.45" y1="1630.4" x2="251.45" y2="1644.98"/>
<line x1="251.45" y1="284.5" x2="251.45" y2="299.08"/>
<line x1="420.58" y1="1630.4" x2="420.58" y2="1644.98"/>
<line x1="420.58" y1="284.5" x2="420.58" y2="299.08"/>
<line x1="589.71" y1="1630.4" x2="589.71" y2="1644.98"/>
<line x1="589.71" y1="284.5" x2="589.71" y2="299.08"/>
<line x1="758.84" y1="1630.4" x2="758.84" y2="1644.98"/>
<line x1="758.84" y1="284.5" x2="758.84" y2="299.08"/>
<line x1="927.97" y1="1630.4" x2="927.97" y2="1644.98"/>
<line x1="927.97" y1="284.5" x2="927.97" y2="299.08"/>
<line x1="1097.10" y1="1630.4" x2="1097.10" y2="1644.98"/>
<line x1="1097.10" y1="284.5" x2="1097.10" y2="299.08"/>
<line x1="1266.23" y1="1630.4" x2="1266.23" y2="1644.98"/>
<line x1="1266.23" y1="284.5" x2="1266.23" y2="299.08"/>
<line x1="1435.36" y1="1630.4" x2="1435.36" y2="1644.98"/>
<line x1="1435.36" y1="284.5" x2="1435.36" y2="299.08"/>
<line x1="194.4" y1="1416.47" x2="179.82" y2="1416.47"/>
<line x1="1521.4" y1="1416.47" x2="1506.82" y2="1416.47"/>
<line x1="194.4" y1="1190.77" x2="179.82" y2="1190.77"/>
<line x1="1521.4" y1="1190.77" x2="1506.82" y2="1190.77"/>
<line x1="194.4" y1="965.07" x2="179.82" y2="965.07"/>
<line x1="1521.4" y1="965.07" x2="1506.82" y2="965.07"/>
<line x1="194.4" y1="739.37" x2="179.82" y2="739.37"/>
<line x1="1521.4" y1="739.37" x2="1506.82" y2="739.37"/>
<line x1="194.4" y1="513.67" x2="179.82" y2="513.67"/>
<line x1="1521.4" y1="513.67" x2="1506.82" y2="513.67"/>
<line x1="194.4" y1="284.50" x2="179.82" y2="284.50"/>
<line x1="194.4" y1="125.17" x2="179.82" y2="125.17"/>
<line x1="1521.40" y1="1630.4" x2="1521.40" y2="1644.98"/>
<line x1="1665.20" y1="1630.4" x2="1665.20" y2="1644.98"/>
</g>
<g font-family="'IPAPGothic','Noto Sans CJK JP','IPAGothic',sans-serif" font-size="41.667" fill="#000">
<text x="251.45" y="1691.9" text-anchor="middle">120</text>
<text x="420.58" y="1691.9" text-anchor="middle">125</text>
<text x="589.71" y="1691.9" text-anchor="middle">130</text>
<text x="758.84" y="1691.9" text-anchor="middle">135</text>
<text x="927.97" y="1691.9" text-anchor="middle">140</text>
<text x="1097.10" y="1691.9" text-anchor="middle">145</text>
<text x="1266.23" y="1691.9" text-anchor="middle">150</text>
<text x="1435.36" y="1691.9" text-anchor="middle">155</text>
<text x="1521.40" y="1691.9" text-anchor="middle">0</text>
<text x="1665.20" y="1691.9" text-anchor="middle">50</text>
<text x="165.2" y="1431.87" text-anchor="end">25</text>
<text x="165.2" y="1206.17" text-anchor="end">30</text>
<text x="165.2" y="980.47" text-anchor="end">35</text>
<text x="165.2" y="754.77" text-anchor="end">40</text>
<text x="165.2" y="529.07" text-anchor="end">45</text>
<text x="165.2" y="299.90" text-anchor="end">0</text>
<text x="165.2" y="140.57" text-anchor="end">100</text>
<text x="835.8" y="1748.2" text-anchor="middle">経度</text>
<text transform="translate(88.5,981.7) rotate(-90)" x="0" y="0" text-anchor="middle">緯度</text>
</g>
</svg>
</body></html>
